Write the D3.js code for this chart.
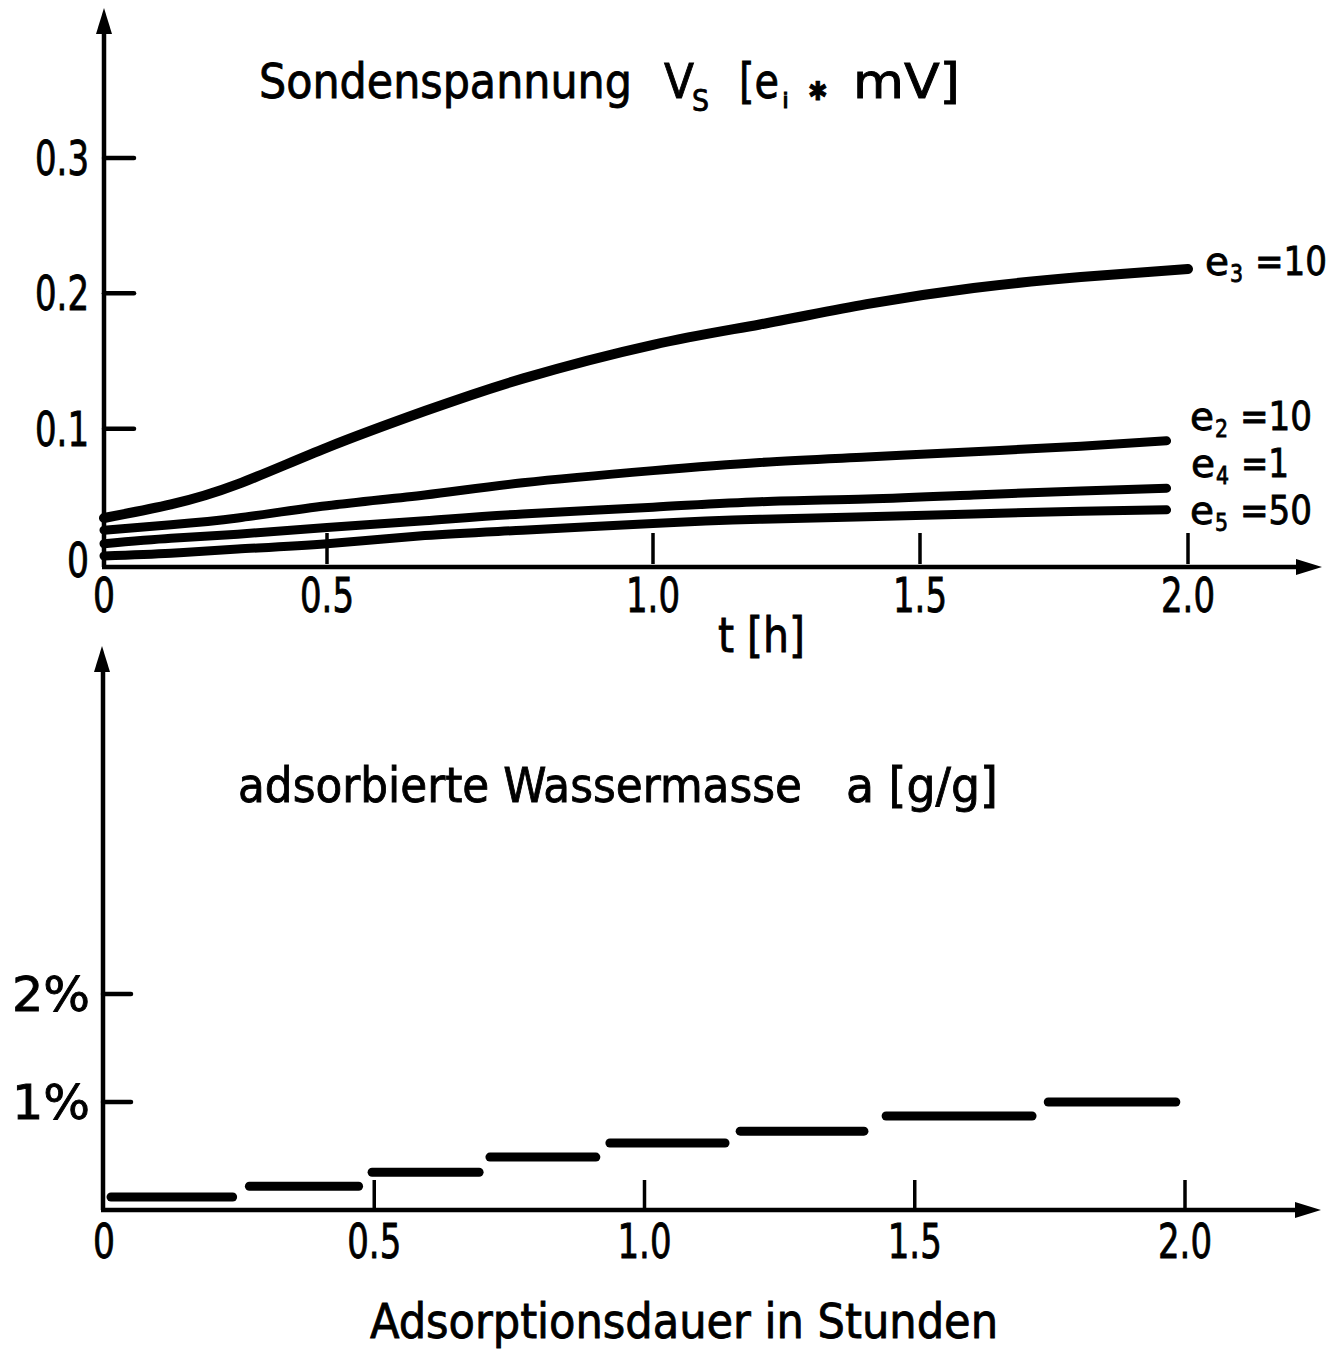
<!DOCTYPE html>
<html>
<head>
<meta charset="utf-8">
<script src="https://cdn.jsdelivr.net/npm/d3@7"></script>
<style>
  body { margin: 0; background: #fff; }
  svg text { font-family: "DejaVu Sans Condensed", "DejaVu Sans", sans-serif; fill: #000; stroke: #000; stroke-width: 0.8; }
</style>
</head>
<body>
<svg id="chart"></svg>
<script>
// top panel: probe voltage curves
const tickT = [0, 0.5, 1.0, 1.5, 2.0];
const tickTLabels = ['0', '0.5', '1.0', '1.5', '2.0'];
const vTicks = [0.1, 0.2, 0.3];
const vTickLabels = ['0', '0.1', '0.2', '0.3'];

const tE3 = [0, 0.15, 0.3, 0.5, 0.65, 0.8, 1.0, 1.2, 1.4, 1.6, 1.8, 2.0];
const vE3 = [0.034, 0.044, 0.059, 0.086, 0.113, 0.137, 0.162, 0.177, 0.192, 0.204, 0.212, 0.218];
const tLow = [0, 0.15, 0.3, 0.5, 0.65, 0.8, 1.0, 1.2, 1.4, 1.6, 1.8, 1.96];
const vE2 = [0.025, 0.029, 0.034, 0.043, 0.051, 0.060, 0.069, 0.075, 0.079, 0.083, 0.087, 0.091];
const vE4 = [0.015, 0.019, 0.022, 0.027, 0.032, 0.037, 0.042, 0.046, 0.048, 0.051, 0.054, 0.056];
const vE5 = [0.006, 0.008, 0.011, 0.015, 0.021, 0.025, 0.030, 0.033, 0.035, 0.037, 0.039, 0.040];
const curveNames = ['3', '2', '4', '5'];
const curveValues = ['=10', '=10', '=1', '=50'];

// bottom panel: adsorbed water mass steps (percent)
const aTicks = [1, 2];
const aTickLabels = ['1%', '2%'];
const segStart = [0.013, 0.269, 0.496, 0.714, 0.936, 1.177, 1.447, 1.747];
const segEnd = [0.238, 0.471, 0.694, 0.910, 1.149, 1.406, 1.717, 1.983];
const segValue = [0.12, 0.22, 0.35, 0.49, 0.62, 0.73, 0.87, 1.0];

const width = 1342;
const height = 1351;

const svg = d3.select('#chart')
  .attr('width', width)
  .attr('height', height);

// hand drawn axis: tick spacing is uneven on the top panel
const xTop = d3.scaleLinear().domain(tickT).range([104, 327, 653, 920, 1188]);
const yTop = d3.scaleLinear().domain([0, 0.3]).range([564, 158]);
const xBot = d3.scaleLinear().domain([0, 2]).range([104, 1185]);
const yBot = d3.scaleLinear().domain([0, 2]).range([1210, 994]);

function arrow(x, y, dir) {
  // dir: 'up' or 'right'
  const p = dir === 'up'
    ? [[x, y], [x - 8, y + 26], [x + 8, y + 26]]
    : [[x, y], [x - 26, y - 8], [x - 26, y + 8]];
  svg.append('path')
    .attr('d', d3.line()(p) + 'Z')
    .attr('fill', '#000');
}

function text(x, y, s, size, len, anchor) {
  const t = svg.append('text')
    .attr('x', x)
    .attr('y', y)
    .attr('font-size', size)
    .attr('text-anchor', anchor || 'start')
    .text(s);
  if (len) t.attr('textLength', len).attr('lengthAdjust', 'spacingAndGlyphs');
  return t;
}

// label width for the narrow stencil digits
const numLen = s => s.length === 1 ? 22 : s.length * 18;

// ---- top panel ----
const axisTop = svg.append('g').attr('stroke', '#000').attr('stroke-width', 4.5).attr('fill', 'none');
axisTop.append('line').attr('x1', 104).attr('x2', 104).attr('y1', yTop(0) + 3).attr('y2', 30);
axisTop.append('line').attr('x1', 102).attr('x2', 1300).attr('y1', yTop(0) + 3).attr('y2', yTop(0) + 3);
arrow(104, 8, 'up');
arrow(1322, yTop(0) + 3, 'right');

axisTop.selectAll('.yt').data(vTicks).enter().append('line')
  .attr('x1', 104).attr('x2', 134)
  .attr('y1', d => yTop(d)).attr('y2', d => yTop(d))
  .attr('stroke-linecap', 'round');
axisTop.selectAll('.xt').data(tickT.slice(1)).enter().append('line')
  .attr('x1', d => xTop(d)).attr('x2', d => xTop(d))
  .attr('y1', yTop(0)).attr('y2', yTop(0) - 31)
  .attr('stroke-width', 3.5);

svg.selectAll('.ytl').data([0].concat(vTicks)).enter().append('text')
  .attr('x', 89).attr('y', (d, i) => yTop(d) + (i === 0 ? 13 : 17))
  .attr('font-size', 48).attr('text-anchor', 'end')
  .attr('textLength', (d, i) => numLen(vTickLabels[i])).attr('lengthAdjust', 'spacingAndGlyphs')
  .text((d, i) => vTickLabels[i]);
svg.selectAll('.xtl').data(tickT).enter().append('text')
  .attr('x', d => xTop(d)).attr('y', 612)
  .attr('font-size', 48).attr('text-anchor', 'middle')
  .attr('textLength', (d, i) => numLen(tickTLabels[i])).attr('lengthAdjust', 'spacingAndGlyphs')
  .text((d, i) => tickTLabels[i]);

text(718, 652, 't [h]', 48, 87);

// title
text(259, 98, 'Sondenspannung', 48, 373);
text(664, 98, 'V', 48, 30);
text(692, 111, 'S', 30, 17);
text(739, 98, '[e', 48, 40);
text(782, 108, 'i', 22, 7);
text(808, 100, '\u2731', 26);
text(853, 98, 'mV]', 48, 107);

const line = d3.line()
  .x(d => xTop(d[0]))
  .y(d => yTop(d[1]))
  .curve(d3.curveNatural);

const series = [
  d3.zip(tE3, vE3),
  d3.zip(tLow, vE2),
  d3.zip(tLow, vE4),
  d3.zip(tLow, vE5)
];

svg.append('g').selectAll('path').data(series).enter().append('path')
  .attr('d', line)
  .attr('fill', 'none')
  .attr('stroke', '#000')
  .attr('stroke-width', (d, i) => i === 0 ? 10 : 9)
  .attr('stroke-linecap', 'round');

// curve labels
const labelPos = [[1205, 275], [1190, 430], [1191, 477], [1190, 524]];
labelPos.forEach((p, i) => {
  text(p[0], p[1], 'e', 39, 24);
  text(p[0] + 25, p[1] + 7, curveNames[i], 24, 13);
  text(p[0] + 50, p[1], curveValues[i], 39, curveValues[i].length * 24);
});

// ---- bottom panel ----
const axisBot = svg.append('g').attr('stroke', '#000').attr('stroke-width', 4.5).attr('fill', 'none');
axisBot.append('line').attr('x1', 103).attr('x2', 103).attr('y1', yBot(0)).attr('y2', 668);
axisBot.append('line').attr('x1', 101).attr('x2', 1300).attr('y1', yBot(0)).attr('y2', yBot(0));
arrow(102, 646, 'up');
arrow(1321, yBot(0), 'right');

axisBot.selectAll('.yt').data(aTicks).enter().append('line')
  .attr('x1', 103).attr('x2', 131)
  .attr('y1', d => yBot(d)).attr('y2', d => yBot(d))
  .attr('stroke-linecap', 'round');
axisBot.selectAll('.xt').data(tickT.slice(1)).enter().append('line')
  .attr('x1', d => xBot(d)).attr('x2', d => xBot(d))
  .attr('y1', yBot(0)).attr('y2', yBot(0) - 30)
  .attr('stroke-width', 3.5);

svg.selectAll('.atl').data(aTicks).enter().append('text')
  .attr('x', 90).attr('y', d => yBot(d) + 17)
  .attr('font-size', 48).attr('text-anchor', 'end')
  .attr('textLength', 78).attr('lengthAdjust', 'spacingAndGlyphs')
  .text((d, i) => aTickLabels[i]);
svg.selectAll('.bxtl').data(tickT).enter().append('text')
  .attr('x', d => xBot(d)).attr('y', 1258)
  .attr('font-size', 48).attr('text-anchor', 'middle')
  .attr('textLength', (d, i) => numLen(tickTLabels[i])).attr('lengthAdjust', 'spacingAndGlyphs')
  .text((d, i) => tickTLabels[i]);

text(238, 802, 'adsorbierte Wassermasse', 48, 564);
text(846, 802, 'a [g/g]', 48, 152);
text(370, 1338, 'Adsorptionsdauer in Stunden', 48, 628);

svg.append('g').selectAll('line').data(segValue).enter().append('line')
  .attr('x1', (d, i) => xBot(segStart[i]))
  .attr('x2', (d, i) => xBot(segEnd[i]))
  .attr('y1', d => yBot(d)).attr('y2', d => yBot(d))
  .attr('stroke', '#000')
  .attr('stroke-width', 9)
  .attr('stroke-linecap', 'round');
</script>
</body>
</html>
